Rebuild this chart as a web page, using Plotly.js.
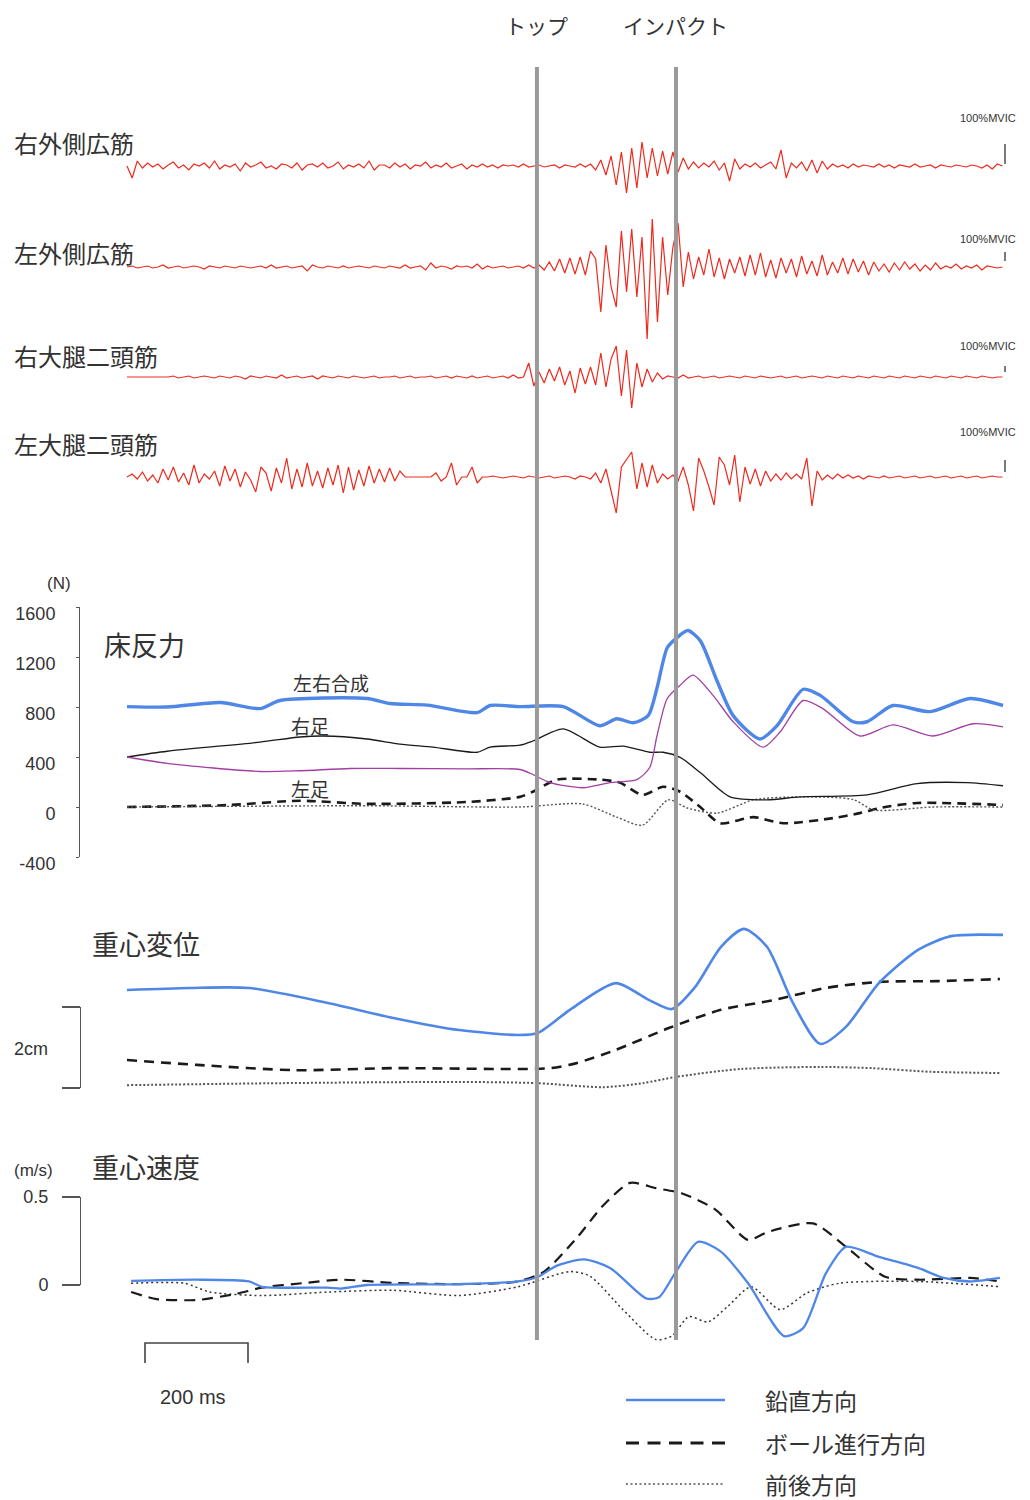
<!DOCTYPE html>
<html>
<head>
<meta charset="utf-8">
<script src="https://cdn.plot.ly/plotly-3.0.1.min.js"></script>
<style>html,body{margin:0;padding:0;background:#fff;}#chart{width:1030px;height:1500px;}</style>
</head>
<body>
<div id="chart"></div>
<script>
// ---------------- DATA ----------------
// time (ms) of event lines
const eventTimes = [796, 1066];
const eventLabels = ["トップ", "インパクト"];

// EMG sampled every 10 ms, 0..1700 ms (amplitude in display units; 100%MVIC length per channel below)
const emgNames = ["右外側広筋", "左外側広筋", "右大腿二頭筋", "左大腿二頭筋"];
const emgMvic100 = [20, 9, 6, 12];
const emgRightVL = [
 0,-12,5,-2,3,-1,2,-3,1,4,
 -2,1,-4,2,0,3,-2,5,-3,1,
 -1,2,-5,3,-1,1,4,-2,0,-3,
 2,1,-2,3,-4,1,2,-1,3,-2,
 0,4,-3,1,-1,2,-2,5,-4,1,
 1,-2,3,-1,2,-3,1,0,4,-2,
 1,-1,3,-2,0,2,-3,1,-1,2,
 -1,1,-2,1,0,1,-1,2,-1,0,
 1,-1,0,1,-2,1,0,-1,2,-1,
 2,-4,6,-9,10,-19,14,-27,18,-22,
 24,-12,18,-10,15,-8,14,-6,8,-3,
 4,-2,3,-1,5,-4,3,-15,7,-3,
 2,-1,3,-2,1,4,-3,16,-12,3,
 -2,4,-5,6,-7,5,-3,2,-1,1,
 -2,2,-1,1,0,-1,2,-1,1,-2,
 1,0,-1,2,-1,0,1,-2,1,0,
 -1,1,0,-1,1,0,-2,1,-3,2,0];
const emgLeftVL = [
 0,1,-1,0,1,-1,0,2,-1,0,
 1,-1,0,1,0,-2,1,0,-1,1,
 0,-1,1,0,-1,0,1,-1,2,-1,
 0,1,-1,0,1,-4,2,0,-1,1,
 0,-1,1,-1,0,1,0,-1,1,0,
 -1,1,0,-1,2,-1,0,1,-3,4,
 -1,1,0,-2,1,0,1,-1,3,-2,
 1,-1,0,1,-1,0,1,-1,2,-1,
 2,-3,5,-4,8,-6,9,-7,10,-8,
 16,8,-45,22,-20,-40,36,-25,38,-30,
 30,-72,48,-55,30,-28,20,44,-20,15,
 -12,10,-8,18,-10,9,-12,8,-6,10,
 -9,12,-8,14,-10,7,-11,9,-6,8,
 -10,11,-7,6,-9,12,-8,5,-6,9,
 -7,8,-5,6,-8,5,-4,3,-5,4,
 -3,5,-2,3,-4,2,-3,4,-2,1,
 -1,3,-2,1,-1,2,-3,1,0,-1,0];
const emgRightBF = [
 0,0,0,0,0,0,0,0,0,1,
 -1,0,1,-1,0,1,0,-1,1,0,
 -1,1,0,-2,1,0,-1,1,0,-1,
 2,-1,0,1,-1,0,1,-2,1,0,
 -1,1,0,-1,1,0,-1,0,1,-1,
 0,0,1,-1,0,1,-1,0,0,1,
 -1,0,1,-1,1,0,-1,1,-1,0,
 1,-1,0,1,-1,2,-1,0,14,-9,
 5,-6,8,-4,10,-8,6,-16,9,-7,
 10,-8,24,-10,18,31,-19,27,-31,14,
 -10,8,-5,4,-2,1,0,-1,2,-1,
 0,1,-1,0,1,-1,0,1,0,-1,
 1,0,-1,1,0,-1,0,1,-1,0,
 1,-1,0,1,0,-1,1,0,-1,1,
 0,-1,1,0,-1,1,0,-1,1,0,
 -1,1,0,-1,1,0,-1,1,0,-1,
 1,0,-1,1,0,-1,1,0,-1,0,0];
const emgLeftBF = [
 0,3,-2,5,-4,2,-6,8,-3,10,
 -5,4,-8,12,-6,3,-2,6,-9,11,
 -4,8,-10,5,-3,-15,10,4,-14,9,
 -6,19,-12,8,-10,14,-9,6,-11,9,
 -8,12,-16,10,-13,7,-9,11,-6,8,
 -5,9,-4,6,0,0,0,0,0,0,
 4,-4,0,14,-8,0,0,10,-6,0,
 0,1,0,-1,0,1,0,-1,1,0,
 -1,0,1,-1,0,1,0,-2,1,0,
 -2,4,-6,8,-14,-36,10,17,25,-12,
 14,-10,12,-6,3,-2,2,-4,10,-8,
 -34,19,6,-10,-28,20,12,-8,22,-25,
 10,-7,8,-9,6,-4,3,-3,4,-2,
 3,-2,19,-29,6,-3,2,-2,3,-1,
 2,-1,1,-2,1,0,-1,1,-1,0,
 1,-1,0,1,-1,0,1,-1,0,1,
 -1,0,1,-1,0,1,-1,0,1,0,0];

// Floor reaction force (N)
const forceTotalT = [0,78,181,258,297,466,511,583,680,705,763,847,918,951,983,1012,1029,1049,1068,1089,1113,1146,1177,1229,1262,1313,1346,1410,1437,1487,1559,1637,1701];
const forceTotalN = [803,800,836,787,852,868,828,815,755,812,803,803,650,706,674,731,950,1274,1355,1412,1331,1006,731,544,650,942,893,682,682,812,763,868,812];
const forceLeftT = [0,78,258,336,433,530,660,763,788,821,885,938,990,1015,1029,1049,1074,1099,1138,1177,1235,1268,1313,1351,1423,1487,1565,1643,1701];
const forceLeftN = [400,349,284,290,308,308,305,300,260,195,154,195,219,316,568,868,974,1055,893,682,479,600,852,787,568,657,568,666,641];
const forceRightT = [0,78,258,336,381,466,530,594,680,705,763,788,847,918,963,1015,1041,1074,1113,1171,1243,1307,1437,1534,1631,1701];
const forceRightN = [400,446,519,560,568,544,503,479,438,479,495,528,625,479,487,438,438,397,276,81,57,81,97,187,195,170];
const forceBallT = [0,194,336,466,660,763,788,835,918,957,1001,1041,1074,1113,1152,1216,1274,1371,1423,1462,1534,1701];
const forceBallN = [0,15,50,25,40,81,122,219,219,195,97,162,122,0,-130,-81,-130,-89,-49,-8,32,16];
const forceApT = [0,466,763,885,951,1001,1051,1088,1146,1216,1307,1410,1450,1565,1701];
const forceApN = [0,10,0,24,-81,-146,57,-8,-49,57,81,60,-24,0,0];
const forceTicks = [-400,0,400,800,1200,1600];
const forceTickText = ["-400","0","400","800","1200","1600"];

// COM displacement (cm, arbitrary offset)
const dispVertT = [0,122,237,390,517,645,759,798,860,949,1014,1058,1103,1153,1198,1243,1293,1346,1396,1460,1536,1600,1701];
const dispVertV = [2.42,2.47,2.47,2.10,1.73,1.43,1.31,1.36,1.93,2.59,2.17,1.95,2.49,3.48,3.93,3.48,2.10,1.09,1.51,2.59,3.41,3.75,3.78];
const dispBallT = [0,136,326,517,823,874,949,1052,1153,1256,1357,1460,1575,1695];
const dispBallV = [0.69,0.57,0.44,0.49,0.49,0.62,0.94,1.48,1.93,2.17,2.47,2.62,2.64,2.69];
const dispApT = [0,301,645,798,924,1002,1064,1192,1346,1447,1561,1695];
const dispApV = [0.07,0.12,0.15,0.12,0.02,0.12,0.27,0.47,0.52,0.49,0.40,0.37];

// COM velocity (m/s)
const velVertT = [8,136,237,262,390,416,466,645,759,798,835,887,938,1008,1033,1064,1109,1153,1206,1276,1313,1357,1396,1460,1536,1586,1637,1695];
const velVertV = [0.023,0.03,0.02,-0.01,-0.015,-0.02,0,0.005,0.02,0.047,0.11,0.146,0.097,-0.076,-0.07,0.066,0.245,0.19,0.01,-0.29,-0.245,0.066,0.217,0.16,0.097,0.04,0.02,0.04];
const velBallT = [8,58,136,212,262,340,416,517,645,759,810,874,924,977,1027,1078,1142,1206,1243,1332,1396,1472,1536,1637,1695];
const velBallV = [-0.04,-0.08,-0.085,-0.05,-0.015,0.01,0.03,0.012,0.005,0.02,0.076,0.27,0.45,0.58,0.55,0.52,0.43,0.256,0.30,0.35,0.217,0.047,0.03,0.04,0.02];
const velApT = [8,111,161,262,390,517,645,759,860,899,963,1027,1058,1091,1128,1167,1212,1268,1320,1383,1536,1695];
const velApV = [0.01,0.01,-0.04,-0.06,-0.04,-0.03,-0.06,-0.01,0.076,0.05,-0.14,-0.31,-0.29,-0.18,-0.21,-0.12,-0.01,-0.14,-0.046,0.01,0.02,-0.01];

const legendNames = ["鉛直方向", "ボール進行方向", "前後方向"];
const scaleBarMs = 200;

// ---------------- LAYOUT HELPERS ----------------
const W = 1030, H = 1500;
const px = x => x / W;
const py = y => 1 - y / H;
const dom = (top, bottom) => [1 - bottom / H, 1 - top / H];

const BLUE = "#4f87e6", RED = "#ee2a1e", PURPLE = "#a13fa3", BLACK = "#1a1a1a", GRAY = "#9a9a9a", TXT = "#333333";
const JP = "Noto Sans CJK JP, Noto Sans, sans-serif";
const LAT = "Liberation Sans, Arial, sans-serif";

const emgT = emgRightVL.map((_, i) => i * 10);
const emgData = [emgRightVL, emgLeftVL, emgRightBF, emgLeftBF];
const emgBase = [166, 267, 377, 477];
const emgBarOff = [2, 6, 5, 5];
const emgMvicY = [118, 239, 346, 432];
const emgLabelY = [142, 252, 355, 443];

const traces = [];
emgData.forEach((d, k) => {
  traces.push({x: emgT, y: d, xaxis: "x", yaxis: k === 0 ? "y" : "y" + (k + 1), mode: "lines",
    line: {color: RED, width: 1.2}, showlegend: false, hoverinfo: "skip"});
});
const sp = {shape: "spline", smoothing: 0.7};
traces.push({x: forceBallT, y: forceBallN, yaxis: "y5", mode: "lines", line: Object.assign({color: BLACK, width: 2.6, dash: "9px,6px"}, sp)});
traces.push({x: forceApT, y: forceApN, yaxis: "y5", mode: "lines", line: Object.assign({color: "#555", width: 1.4, dash: "2px,2px"}, sp)});
traces.push({x: forceRightT, y: forceRightN, yaxis: "y5", mode: "lines", line: Object.assign({color: BLACK, width: 1.3}, sp)});
traces.push({x: forceLeftT, y: forceLeftN, yaxis: "y5", mode: "lines", line: Object.assign({color: PURPLE, width: 1.3}, sp)});
traces.push({x: forceTotalT, y: forceTotalN, yaxis: "y5", mode: "lines", line: Object.assign({color: BLUE, width: 3.4}, sp)});

traces.push({x: dispApT, y: dispApV, yaxis: "y6", mode: "lines", line: Object.assign({color: "#555", width: 2, dash: "2px,2px"}, sp)});
traces.push({x: dispBallT, y: dispBallV, yaxis: "y6", mode: "lines", line: Object.assign({color: BLACK, width: 2.6, dash: "10px,7px"}, sp)});
traces.push({x: dispVertT, y: dispVertV, yaxis: "y6", mode: "lines", line: Object.assign({color: BLUE, width: 2.6}, sp)});

traces.push({x: velApT, y: velApV, yaxis: "y7", mode: "lines", line: Object.assign({color: "#333", width: 1.5, dash: "2px,3px"}, sp)});
traces.push({x: velBallT, y: velBallV, yaxis: "y7", mode: "lines", line: Object.assign({color: BLACK, width: 2.2, dash: "11px,7px"}, sp)});
traces.push({x: velVertT, y: velVertV, yaxis: "y7", mode: "lines", line: Object.assign({color: BLUE, width: 2.3}, sp)});
// bracket axes
traces.push({x: [], y: [], yaxis: "y8", mode: "lines"});
traces.push({x: [], y: [], yaxis: "y9", mode: "lines"});
traces.forEach(t => { t.xaxis = "x"; t.showlegend = false; t.hoverinfo = "skip"; });

// x axis: 0 ms at pixel 127, 0.515 px per ms
const x0ms = -127 / 0.515;
const layout = {
  width: W, height: H, margin: {l: 0, r: 0, t: 0, b: 0},
  paper_bgcolor: "#fff", plot_bgcolor: "rgba(0,0,0,0)", showlegend: false,
  xaxis: {domain: [0, 1], range: [x0ms, x0ms + W / 0.515], visible: false, fixedrange: true},
  shapes: [], annotations: []
};
const hidden = (d, r) => ({domain: d, range: r, visible: false, fixedrange: true, anchor: "free", position: 0});
emgBase.forEach((b, k) => {
  layout[k === 0 ? "yaxis" : "yaxis" + (k + 1)] = hidden(dom(b - 80, b + 80), [-80, 80]);
});
layout.yaxis5 = {domain: dom(607, 857), range: [-400, 1600], anchor: "free", position: px(79), side: "left",
  showline: true, linecolor: "#555", linewidth: 1.2, showgrid: false, zeroline: false,
  tickvals: forceTicks, ticktext: forceTickText, ticks: "outside", ticklen: 3, tickcolor: "#555",
  ticklabelstandoff: 17, ticklabelshift: 7,
  tickfont: {family: LAT, size: 18, color: TXT}, fixedrange: true};
layout.yaxis6 = hidden(dom(900, 1100), [-12 / 40.5, 188 / 40.5]);
layout.yaxis7 = hidden(dom(1150, 1350), [-65 / 176, 135 / 176]);
layout.yaxis8 = {domain: dom(1197, 1285), range: [0, 0.5], anchor: "free", position: px(80), side: "left",
  showline: true, linecolor: "#555", linewidth: 1.2, showgrid: false, zeroline: false,
  tickvals: [0, 0.5], ticktext: ["0", "0.5"], ticks: "outside", ticklen: 18, tickcolor: "#555", tickwidth: 1.2,
  ticklabelstandoff: 10, tickfont: {family: LAT, size: 18, color: TXT}, fixedrange: true};
layout.yaxis9 = {domain: dom(1007, 1088), range: [0, 2], anchor: "free", position: px(80), side: "left",
  showline: true, linecolor: "#555", linewidth: 1.2, showgrid: false, zeroline: false,
  tickvals: [0, 2], showticklabels: false, ticks: "outside", ticklen: 18, tickcolor: "#555", tickwidth: 1.2, fixedrange: true};

// event lines
eventTimes.forEach((t, i) => {
  layout.shapes.push({type: "line", xref: "x", yref: "paper", x0: t, x1: t, y0: py(1340), y1: py(67),
    line: {color: GRAY, width: 4}, layer: "above"});
  layout.annotations.push({xref: "x", yref: "paper", x: t, y: py(25), text: eventLabels[i], showarrow: false,
    xanchor: "center", yanchor: "middle", font: {family: JP, size: 21, color: TXT}});
});

// EMG labels and 100%MVIC bars
emgNames.forEach((n, k) => {
  const ya = k === 0 ? "y" : "y" + (k + 1);
  layout.annotations.push({xref: "paper", yref: "paper", x: px(12), y: py(emgLabelY[k]), text: n, showarrow: false,
    xanchor: "left", yanchor: "middle", font: {family: JP, size: 24, color: TXT}});
  layout.annotations.push({xref: "paper", yref: "paper", x: px(988), y: py(emgMvicY[k]), text: "100%MVIC", showarrow: false,
    xanchor: "center", yanchor: "middle", font: {family: LAT, size: 11, color: TXT}});
  layout.shapes.push({type: "line", xref: "paper", yref: ya, x0: px(1005), x1: px(1005),
    y0: emgBarOff[k], y1: emgBarOff[k] + emgMvic100[k], line: {color: "#333", width: 1.3}});
});

const ann = (x, y, text, size, anchor, fam) => layout.annotations.push({xref: "paper", yref: "paper", x: px(x), y: py(y),
  text: text, showarrow: false, xanchor: anchor || "left", yanchor: "middle", font: {family: fam || JP, size: size, color: TXT}});
ann(59, 583, "(N)", 17, "center", LAT);
ann(102, 645, "床反力", 27);
ann(331, 682, "左右合成", 19, "center");
ann(310, 725, "右足", 19, "center");
ann(310, 788, "左足", 19, "center");
ann(90, 943, "重心変位", 27);
ann(12, 1049, "2cm", 18, "left", LAT);
ann(12, 1170, "(m/s)", 17, "left", LAT);
ann(90, 1166, "重心速度", 27);

// 200 ms scale bar
const sb0 = (145 - 127) / 0.515;
layout.shapes.push({type: "path", xref: "x", yref: "paper",
  path: `M${sb0},${py(1363)} L${sb0},${py(1343)} L${sb0 + scaleBarMs},${py(1343)} L${sb0 + scaleBarMs},${py(1363)}`,
  line: {color: "#444", width: 1.6}});
layout.annotations.push({xref: "x", yref: "paper", x: sb0 + scaleBarMs / 2 - 6, y: py(1397), text: scaleBarMs + " ms",
  showarrow: false, xanchor: "center", yanchor: "middle", font: {family: LAT, size: 20, color: TXT}});

// custom legend
const legY = [1400, 1443, 1484];
const legStyle = [{color: BLUE, width: 2.6}, {color: BLACK, width: 3, dash: "13px,8.5px"}, {color: "#555", width: 1.6, dash: "2px,2.5px"}];
legendNames.forEach((n, i) => {
  layout.shapes.push({type: "line", xref: "paper", yref: "paper", x0: px(626), x1: px(725), y0: py(legY[i]), y1: py(legY[i]), line: legStyle[i]});
  layout.annotations.push({xref: "paper", yref: "paper", x: px(764), y: py(legY[i]), text: n, showarrow: false,
    xanchor: "left", yanchor: "middle", borderpad: 0, font: {family: JP, size: 23, color: TXT}});
});

Plotly.newPlot("chart", traces, layout, {displayModeBar: false, staticPlot: true});
</script>
</body>
</html>
